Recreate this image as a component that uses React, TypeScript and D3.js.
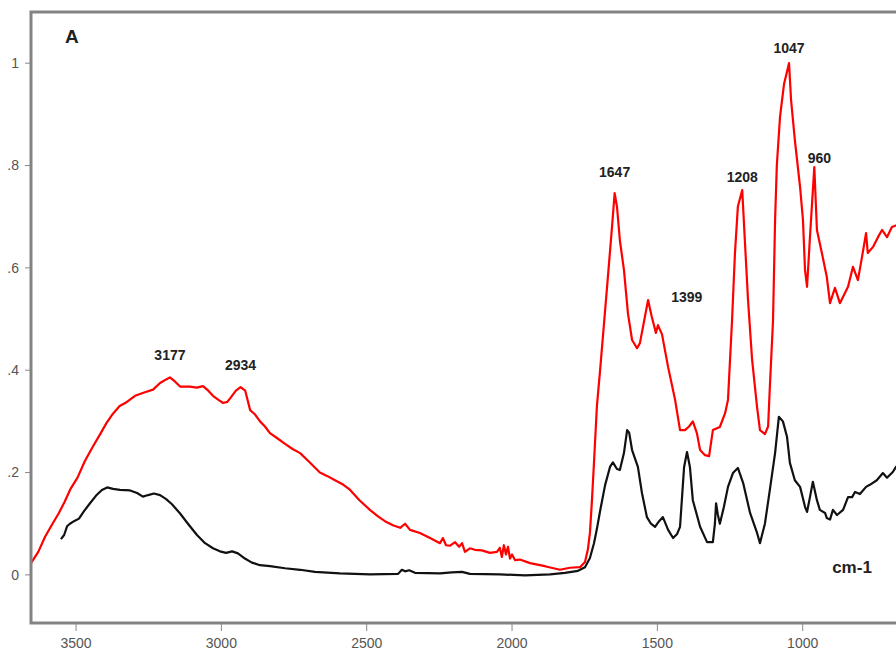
import React from 'react';
import * as d3 from 'd3';

const WIDTH = 896;
const HEIGHT = 650;

// Wavenumber (cm-1) vs absorbance, red trace
const sampleSpectrum: [number, number][] = [
  [3655, 0.023], [3630, 0.045], [3607, 0.074], [3583, 0.098], [3560, 0.12], [3540, 0.142],
  [3520, 0.167], [3495, 0.19], [3470, 0.222], [3445, 0.248], [3417, 0.275], [3395, 0.297],
  [3373, 0.315], [3350, 0.33], [3325, 0.338], [3297, 0.35], [3263, 0.357], [3235, 0.362],
  [3211, 0.375], [3190, 0.382], [3177, 0.386], [3160, 0.378], [3142, 0.368], [3108, 0.368],
  [3085, 0.366], [3063, 0.369], [3045, 0.36], [3029, 0.35], [3010, 0.342], [2994, 0.336],
  [2980, 0.338], [2970, 0.345], [2950, 0.36], [2934, 0.367], [2918, 0.36], [2901, 0.322],
  [2885, 0.314], [2867, 0.3], [2850, 0.29], [2833, 0.277], [2810, 0.268], [2781, 0.256],
  [2755, 0.246], [2729, 0.238], [2700, 0.222], [2661, 0.2], [2635, 0.193], [2609, 0.185],
  [2580, 0.176], [2557, 0.166], [2525, 0.146], [2489, 0.127], [2460, 0.114], [2437, 0.105],
  [2410, 0.097], [2385, 0.092], [2368, 0.1], [2351, 0.088], [2317, 0.082], [2282, 0.072],
  [2248, 0.062], [2238, 0.072], [2227, 0.058], [2213, 0.057], [2196, 0.064], [2182, 0.055],
  [2172, 0.062], [2162, 0.045], [2145, 0.052], [2128, 0.049], [2104, 0.048], [2076, 0.043],
  [2052, 0.045], [2042, 0.053], [2035, 0.035], [2028, 0.058], [2021, 0.04], [2014, 0.055],
  [2007, 0.032], [2000, 0.04], [1990, 0.029], [1973, 0.03], [1938, 0.023], [1887, 0.017],
  [1835, 0.01], [1801, 0.014], [1766, 0.015], [1749, 0.025], [1739, 0.05], [1732, 0.082],
  [1725, 0.146], [1718, 0.22], [1708, 0.33], [1697, 0.4], [1673, 0.563], [1656, 0.68],
  [1647, 0.746], [1639, 0.72], [1629, 0.654], [1615, 0.596], [1601, 0.51], [1587, 0.459],
  [1570, 0.443], [1560, 0.453], [1543, 0.504], [1532, 0.537], [1519, 0.504], [1505, 0.473],
  [1498, 0.488], [1484, 0.47], [1463, 0.406], [1446, 0.361], [1439, 0.342], [1422, 0.283],
  [1405, 0.283], [1391, 0.29], [1378, 0.3], [1364, 0.277], [1353, 0.244], [1336, 0.234],
  [1322, 0.232], [1309, 0.283], [1285, 0.289], [1267, 0.316], [1257, 0.342], [1243, 0.498],
  [1233, 0.629], [1223, 0.72], [1208, 0.752], [1199, 0.654], [1188, 0.537], [1174, 0.42],
  [1157, 0.328], [1147, 0.283], [1130, 0.275], [1119, 0.29], [1113, 0.367], [1102, 0.498],
  [1095, 0.693], [1089, 0.8], [1078, 0.895], [1064, 0.96], [1047, 1.0], [1040, 0.928],
  [1027, 0.85], [1009, 0.758], [999, 0.693], [992, 0.596], [985, 0.563], [975, 0.66],
  [960, 0.797], [951, 0.674], [934, 0.629], [917, 0.582], [906, 0.531], [889, 0.561],
  [872, 0.531], [844, 0.563], [827, 0.602], [810, 0.576], [796, 0.621], [782, 0.668],
  [776, 0.629], [758, 0.641], [741, 0.66], [727, 0.674], [710, 0.66], [693, 0.68], [648, 0.69],
];

// Wavenumber (cm-1) vs absorbance, black trace
const referenceSpectrum: [number, number][] = [
  [3552, 0.07], [3541, 0.078], [3531, 0.095], [3521, 0.1], [3507, 0.105], [3490, 0.11],
  [3472, 0.125], [3452, 0.14], [3431, 0.155], [3411, 0.166], [3393, 0.171], [3373, 0.168],
  [3349, 0.166], [3314, 0.165], [3290, 0.16], [3270, 0.153], [3252, 0.156], [3232, 0.159],
  [3211, 0.156], [3190, 0.148], [3170, 0.138], [3142, 0.12], [3115, 0.1], [3084, 0.078],
  [3056, 0.062], [3029, 0.052], [3005, 0.046], [2984, 0.043], [2963, 0.046], [2943, 0.042],
  [2919, 0.032], [2895, 0.024], [2867, 0.019], [2833, 0.017], [2781, 0.013], [2729, 0.01],
  [2678, 0.006], [2592, 0.003], [2489, 0.001], [2392, 0.002], [2379, 0.01], [2368, 0.007],
  [2354, 0.009], [2334, 0.004], [2248, 0.003], [2207, 0.005], [2172, 0.006], [2145, 0.002],
  [2042, 0.001], [1955, -0.001], [1869, 0.001], [1818, 0.004], [1773, 0.008], [1749, 0.015],
  [1732, 0.033], [1718, 0.062], [1708, 0.09], [1697, 0.125], [1680, 0.175], [1663, 0.211],
  [1653, 0.22], [1639, 0.207], [1629, 0.205], [1615, 0.238], [1604, 0.283], [1597, 0.278],
  [1587, 0.244], [1567, 0.211], [1553, 0.16], [1536, 0.113], [1522, 0.1], [1508, 0.094],
  [1494, 0.105], [1481, 0.113], [1463, 0.088], [1446, 0.072], [1432, 0.08], [1422, 0.094],
  [1408, 0.211], [1398, 0.24], [1388, 0.211], [1378, 0.146], [1353, 0.094], [1329, 0.064],
  [1309, 0.064], [1302, 0.1], [1298, 0.14], [1292, 0.118], [1285, 0.1], [1271, 0.133],
  [1257, 0.172], [1240, 0.199], [1223, 0.209], [1205, 0.18], [1181, 0.121], [1157, 0.082],
  [1147, 0.062], [1130, 0.1], [1113, 0.166], [1095, 0.238], [1082, 0.309], [1068, 0.3],
  [1054, 0.27], [1044, 0.219], [1027, 0.185], [1009, 0.172], [992, 0.133], [985, 0.123],
  [975, 0.152], [965, 0.182], [951, 0.146], [941, 0.127], [923, 0.121], [917, 0.111],
  [906, 0.108], [896, 0.127], [882, 0.117], [861, 0.127], [844, 0.152], [830, 0.152],
  [820, 0.162], [803, 0.158], [782, 0.172], [769, 0.176], [745, 0.185], [724, 0.199],
  [710, 0.19], [690, 0.201], [679, 0.211], [648, 0.225],
];

const xTickValues = [3500, 3000, 2500, 2000, 1500, 1000];
const yTickValues = [0, 0.2, 0.4, 0.6, 0.8, 1];
const yTickLabels = ['0', '.2', '.4', '.6', '.8', '1'];

// Peak annotations: wavenumber, label text, absorbance at the label baseline
const peakWavenumbers = [3177, 2934, 1647, 1399, 1208, 1047, 960];
const peakTexts = ['3177', '2934', '1647', '1399', '1208', '1047', '960'];
const peakLabelLevels = [0.42, 0.401, 0.777, 0.533, 0.768, 1.02, 0.805];

const FONT = "Arial, 'Liberation Sans', Helvetica, sans-serif";

export default function App() {
  const frame = { left: 31, top: 12, right: 905, bottom: 623 };

  const x = d3.scaleLinear().domain([3655, 648]).range([frame.left, frame.right]);
  const y = d3.scaleLinear().domain([-0.094, 1.1]).range([frame.bottom, frame.top]);

  const line = d3
    .line<[number, number]>()
    .x((d) => x(d[0]))
    .y((d) => y(d[1]))
    .curve(d3.curveLinear);

  return (
    <svg
      width={WIDTH}
      height={HEIGHT}
      style={{ position: 'absolute', left: 0, top: 0, display: 'block', background: '#fff' }}
      fontFamily={FONT}
    >
      <defs>
        <clipPath id="plot-area">
          <rect
            x={frame.left}
            y={frame.top}
            width={frame.right - frame.left}
            height={frame.bottom - frame.top}
          />
        </clipPath>
      </defs>

      {/* y axis ticks */}
      {yTickValues.map((v, i) => (
        <g key={`y${v}`}>
          <line x1={frame.left - 6} x2={frame.left} y1={y(v)} y2={y(v)} stroke="#888" strokeWidth={1} />
          <text
            x={frame.left - 12}
            y={y(v)}
            dy="0.35em"
            textAnchor="end"
            fontSize={14}
            fill="#555"
          >
            {yTickLabels[i]}
          </text>
        </g>
      ))}

      {/* x axis ticks */}
      {xTickValues.map((v) => (
        <g key={`x${v}`}>
          <line x1={x(v)} x2={x(v)} y1={frame.bottom} y2={frame.bottom + 8} stroke="#888" strokeWidth={1} />
          <text x={x(v)} y={frame.bottom + 25} textAnchor="middle" fontSize={14} fill="#555">
            {v}
          </text>
        </g>
      ))}

      <g clipPath="url(#plot-area)">
        <path d={line(referenceSpectrum) ?? ''} fill="none" stroke="#111" strokeWidth={2.2} strokeLinejoin="round" />
        <path d={line(sampleSpectrum) ?? ''} fill="none" stroke="#ff0000" strokeWidth={2.2} strokeLinejoin="round" />
      </g>

      <rect
        x={frame.left}
        y={frame.top}
        width={frame.right - frame.left}
        height={frame.bottom - frame.top}
        fill="none"
        stroke="#838383"
        strokeWidth={3}
      />

      {peakWavenumbers.map((w, i) => (
        <text
          key={`p${w}`}
          x={x(w) + (w === 960 ? 5 : 0)}
          y={y(peakLabelLevels[i])}
          textAnchor="middle"
          fontSize={14}
          fontWeight="bold"
          fill="#222"
        >
          {peakTexts[i]}
        </text>
      ))}

      <text x={65} y={43} fontSize={19} fontWeight="bold" fill="#222">
        A
      </text>
      <text x={852} y={573} textAnchor="middle" fontSize={17} fontWeight="bold" fill="#222">
        cm-1
      </text>
    </svg>
  );
}
